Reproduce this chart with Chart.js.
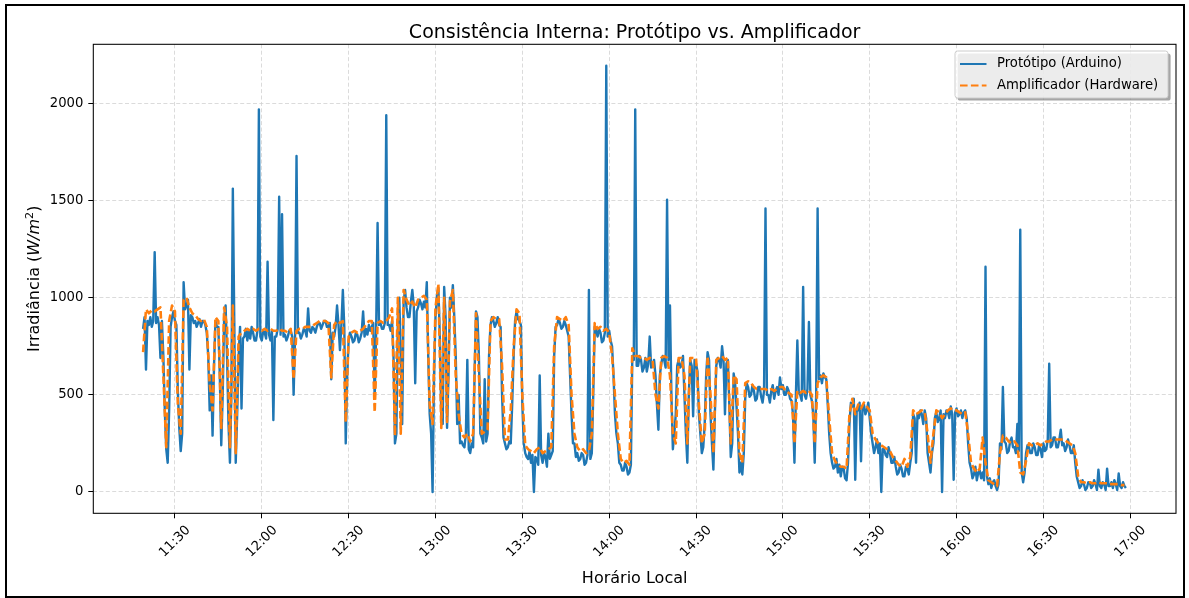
<!DOCTYPE html>
<html><head><meta charset="utf-8">
<script src="https://cdn.jsdelivr.net/npm/chart.js@4.4.1/dist/chart.umd.min.js"></script>
<style>html,body{margin:0;padding:0;background:#fff;overflow:hidden}#wrap{width:1189px;height:598px;position:relative}</style>
</head><body><div id="wrap"><canvas id="c" width="1189" height="598"></canvas></div>
<script>
const chartTitle = "Consistência Interna: Protótipo vs. Amplificador";
const xAxisTitle = "Horário Local";
const seriesNames = ["Protótipo (Arduino)", "Amplificador (Hardware)"];
const startTime = "11:19";
const stepPrototipoMin = 0.5;
const stepAmplificadorMin = 1;
const xTickLabels = ["11:30","12:00","12:30","13:00","13:30","14:00","14:30","15:00","15:30","16:00","16:30","17:00"];
const yTickValues = [0, 500, 1000, 1500, 2000];
const xLimits = ["11:01.8", "17:15.8"];
const yLimits = [-110, 2305];

const prototipo = [
840,900, 630,880, 860,900, 850,880, 1235,870, 900,860, 690,880, 700,420, 220,150, 420,850,
900,930, 880,860, 520,330, 210,300, 1080,940, 960,990, 630,910, 900,870, 880,850, 870,890,
850,880, 880,860, 820,700, 420,600, 290,650, 880,850, 850,600, 240,500, 900,960, 700,350,
150,500, 1562,880, 150,400, 700,850, 430,790, 800,840, 780,830, 790,850, 820,780, 780,830,
1970,800, 780,830, 820,790, 1185,810, 780,830, 370,800, 800,840, 1520,810, 1430,800, 810,780,
800,830, 830,800, 500,810, 1730,820, 820,790, 810,840, 830,800, 945,830, 820,850, 840,820,
850,870, 870,840, 860,880, 880,850, 850,870, 580,820, 800,850, 960,860, 730,860, 1040,850,
250,600, 780,820, 800,770, 780,820, 810,770, 790,820, 930,800, 840,810, 860,830, 850,870,
480,830, 1385,860, 870,840, 840,870, 1940,860, 860,830, 880,700, 250,300, 900,1000, 700,350,
980,1040, 950,900, 900,980, 1040,960, 560,930, 950,990, 970,940, 980,950, 1080,700, 400,300,
0,600, 900,1000, 1050,800, 400,350, 1055,900, 330,600, 1000,950, 1065,900, 700,350, 500,250,
260,240, 230,300, 680,220, 200,250, 230,600, 930,900, 700,300, 280,250, 580,260, 300,700,
860,900, 880,850, 870,900, 860,850, 500,280, 250,220, 230,260, 250,450, 700,880, 930,890,
880,860, 450,250, 200,180, 170,210, 150,190, 0,180, 170,140, 600,190, 150,200, 180,130,
300,170, 190,210, 700,850, 860,890, 870,840, 850,880, 860,830, 800,600, 400,250, 250,180,
200,160, 170,200, 190,140, 150,190, 1040,170, 200,500, 850,830, 800,840, 820,770, 780,820,
2195,800, 830,780, 750,600, 400,300, 250,150, 140,110, 110,150, 130,90, 100,140, 700,680,
1970,650, 650,700, 680,620, 640,690, 620,660, 800,640, 650,680, 600,450, 320,600, 660,700,
680,640, 1505,680, 960,500, 220,300, 400,650, 680,640, 650,700, 500,300, 150,500, 680,650,
390,680, 660,620, 400,300, 200,230, 350,600, 720,680, 400,250, 115,400, 650,690, 680,640,
750,680, 400,660, 680,450, 180,250, 610,560, 440,300, 100,150, 90,200, 480,560, 540,490,
500,550, 520,470, 480,540, 540,490, 460,520, 1460,500, 500,460, 520,550, 480,520, 540,500,
590,530, 550,500, 500,540, 520,480, 470,400, 150,500, 780,510, 500,470, 1056,500, 480,530,
875,500, 470,400, 150,500, 1460,580, 600,560, 610,590, 580,450, 300,200, 150,120, 130,170,
100,140, 80,130, 120,70, 60,150, 350,460, 440,480, 63,420, 420,460, 158,430, 450,400,
420,460, 380,300, 250,200, 230,270, 200,250, 0,220, 220,190, 180,230, 200,150, 150,180,
130,90, 100,140, 120,80, 80,130, 120,90, 150,200, 400,380, 150,400, 380,420, 400,350,
420,380, 200,150, 100,200, 250,380, 410,360, 380,420, 0,400, 380,420, 410,380, 440,400,
63,410, 430,390, 400,420, 380,410, 420,380, 250,150, 120,70, 90,130, 60,100, 110,70,
100,60, 1160,80, 40,70, 20,50, 60,30, 10,40, 250,220, 540,260, 250,200, 210,260,
280,230, 230,200, 350,210, 1350,100, 50,100, 200,240, 230,200, 200,250, 230,190, 190,240,
220,180, 250,210, 220,270, 660,230, 240,280, 280,230, 230,270, 320,240, 250,210, 230,270,
240,200, 200,240, 150,80, 50,20, 30,60, 40,10, 20,50, 50,20, 30,60, 40,10,
115,30, 20,50, 40,10, 120,30, 30,50, 20,60, 40,10, 95,30, 20,50, 30,20
];
const amplificador = [
720,940,920,935,930,940,950,600,230,880,960,930,450,300,990,1000,950,920,910,890,
880,890,850,560,420,900,880,330,950,850,230,960,200,800,820,830,840,830,840,830,
840,830,840,830,840,830,830,840,830,830,820,840,580,830,840,840,850,850,850,860,
870,880,880,880,870,590,860,880,870,880,360,800,820,830,820,830,840,860,880,880,
410,870,880,870,880,900,945,290,1000,300,1040,990,960,980,950,990,1000,1010,990,450,
350,950,1070,330,1000,360,980,1040,600,400,300,280,300,260,300,920,600,300,310,320,
880,900,890,890,650,270,270,420,750,940,920,500,240,220,210,200,220,230,200,210,
220,230,750,900,890,880,900,860,500,300,230,210,220,200,210,300,870,840,850,830,
840,820,700,500,300,170,150,160,140,740,700,700,690,690,680,690,680,500,430,690,
700,690,600,300,250,690,690,600,250,690,690,690,450,250,300,700,500,200,680,690,
700,680,690,250,600,580,200,150,560,570,560,540,530,530,530,530,520,530,520,530,
540,540,520,510,500,250,520,510,520,510,520,500,250,560,590,600,590,380,200,160,
140,130,130,120,400,480,400,450,430,460,440,420,300,270,250,240,230,220,210,180,
160,140,130,170,130,180,420,400,410,420,410,300,150,300,420,410,380,400,420,430,
420,420,410,400,410,300,150,120,100,120,280,150,60,50,40,30,200,290,280,260,
250,260,240,100,90,160,250,240,240,250,240,250,260,260,270,270,270,270,270,260,
250,240,200,80,50,50,45,50,45,45,50,45,45,45,40,40,40,40,35,35
];

function toMin(s){ const p = s.split(':'); return (+p[0])*60 + parseFloat(p[1]); }
const t0 = toMin(startTime);
const ptsA = prototipo.map((v,i)=>({x: t0 + i*stepPrototipoMin, y: v}));
const ptsB = amplificador.map((v,i)=>({x: t0 + i*stepAmplificadorMin, y: v}));

const FONT = '"DejaVu Sans", "Liberation Sans", sans-serif';
const BLUE = '#1f77b4', ORANGE = '#ff7f0e';
const ORANGE_DASH = [7.6, 3.3];

function rrect(ctx, x, y, w, h, r){
  ctx.beginPath();
  ctx.moveTo(x+r, y); ctx.lineTo(x+w-r, y); ctx.arcTo(x+w, y, x+w, y+r, r);
  ctx.lineTo(x+w, y+h-r); ctx.arcTo(x+w, y+h, x+w-r, y+h, r);
  ctx.lineTo(x+r, y+h); ctx.arcTo(x, y+h, x, y+h-r, r);
  ctx.lineTo(x, y+r); ctx.arcTo(x, y, x+r, y, r); ctx.closePath();
}

const overlay = {
  id: 'overlay',
  afterDraw(chart){
    const ctx = chart.ctx, a = chart.chartArea, xs = chart.scales.x;
    ctx.save();
    ctx.strokeStyle = '#000'; ctx.lineWidth = 1.05; ctx.setLineDash([]);
    ctx.strokeRect(a.left, a.top, a.right - a.left, a.bottom - a.top);
    ctx.fillStyle = '#000';
    ctx.font = '13.2px ' + FONT;
    xs.ticks.forEach((t, i) => {
      const px = xs.getPixelForValue(t.value);
      const lab = xTickLabels[i];
      const w = ctx.measureText(lab).width, h = 15.4;
      const half = (w + h) / (2 * Math.SQRT2);
      ctx.save();
      ctx.translate(px, a.bottom + 9.4 + half);
      ctx.rotate(-Math.PI/4);
      ctx.textAlign = 'center'; ctx.textBaseline = 'middle';
      ctx.fillText(lab, 0, 0);
      ctx.restore();
    });
    const cx = (a.left + a.right) / 2;
    ctx.font = '19px ' + FONT; ctx.textAlign = 'center'; ctx.textBaseline = 'alphabetic';
    ctx.fillText(chartTitle, cx, 38);
    ctx.font = '16px ' + FONT;
    ctx.fillText(xAxisTitle, cx, 583);
    const cy = (a.top + a.bottom) / 2;
    ctx.save();
    ctx.translate(39, cy); ctx.rotate(-Math.PI/2);
    const parts = [
      {t: 'Irradiância (', f: '16px ' + FONT, dy: 0},
      {t: 'W/m', f: 'italic 16px ' + FONT, dy: 0},
      {t: '2', f: '11.2px ' + FONT, dy: -6.5},
      {t: ')', f: '16px ' + FONT, dy: 0}
    ];
    let tot = 0;
    parts.forEach(p => { ctx.font = p.f; p.w = ctx.measureText(p.t).width; tot += p.w; });
    let xx = -tot/2;
    ctx.textAlign = 'left';
    parts.forEach(p => { ctx.font = p.f; ctx.fillText(p.t, xx, p.dy); xx += p.w; });
    ctx.restore();
    const L = {x: 955, y: 51, w: 213, h: 47};
    ctx.fillStyle = 'rgba(77,77,77,0.5)';
    rrect(ctx, L.x + 2.6, L.y + 2.6, L.w, L.h, 2.6); ctx.fill();
    ctx.fillStyle = 'rgba(255,255,255,0.8)';
    rrect(ctx, L.x, L.y, L.w, L.h, 2.6); ctx.fill();
    ctx.strokeStyle = '#cccccc'; ctx.lineWidth = 1; ctx.stroke();
    const rows = [64, 85.5];
    const styles = [{c: BLUE, d: []}, {c: ORANGE, d: ORANGE_DASH}];
    rows.forEach((ry, i) => {
      ctx.beginPath(); ctx.strokeStyle = styles[i].c; ctx.lineWidth = 2; ctx.setLineDash(styles[i].d);
      ctx.moveTo(960, ry); ctx.lineTo(986.5, ry); ctx.stroke();
      ctx.setLineDash([]);
      ctx.fillStyle = '#000'; ctx.font = '13.2px ' + FONT; ctx.textAlign = 'left'; ctx.textBaseline = 'middle';
      ctx.fillText(seriesNames[i], 997, ry);
    });
    ctx.strokeStyle = '#000'; ctx.lineWidth = 2; ctx.setLineDash([]);
    ctx.strokeRect(6, 5, 1178, 592);
    ctx.restore();
  }
};

new Chart(document.getElementById('c'), {
  type: 'line',
  data: {
    datasets: [
      {label: seriesNames[0], data: ptsA, borderColor: BLUE, backgroundColor: BLUE, borderWidth: 2.4,
       pointRadius: 0, tension: 0, borderJoinStyle: 'round', order: 1, fill: false},
      {label: seriesNames[1], data: ptsB, borderColor: ORANGE, backgroundColor: ORANGE, borderWidth: 2.6,
       borderDash: ORANGE_DASH, pointRadius: 0, tension: 0, borderJoinStyle: 'round', order: 0, fill: false}
    ]
  },
  options: {
    responsive: false, animation: false, devicePixelRatio: 1,
    layout: {padding: {top: 44.3, right: 13, bottom: 0, left: 0}},
    plugins: {legend: {display: false}, title: {display: false}, tooltip: {enabled: false}},
    scales: {
      x: {
        type: 'linear', min: toMin(xLimits[0]), max: toMin(xLimits[1]),
        afterBuildTicks: s => { s.ticks = xTickLabels.map(l => ({value: toMin(l)})); },
        afterFit: s => { s.height = 598 - 513.3; },
        ticks: {display: false},
        grid: {color: '#d2d2d2', lineWidth: 0.8, tickLength: 5, tickColor: '#000', tickWidth: 1, tickBorderDash: []},
        border: {display: false, dash: [4, 2.4]}
      },
      y: {
        type: 'linear', min: yLimits[0], max: yLimits[1],
        afterBuildTicks: s => { s.ticks = yTickValues.map(v => ({value: v})); },
        afterFit: s => { s.width = 93.3; },
        ticks: {color: '#000', padding: 5, font: {family: FONT, size: 13.2}, callback: v => String(v)},
        grid: {color: '#d2d2d2', lineWidth: 0.8, tickLength: 5, tickColor: '#000', tickWidth: 1, tickBorderDash: []},
        border: {display: false, dash: [4, 2.4]}
      }
    }
  },
  plugins: [overlay]
});
</script>
</body></html>
